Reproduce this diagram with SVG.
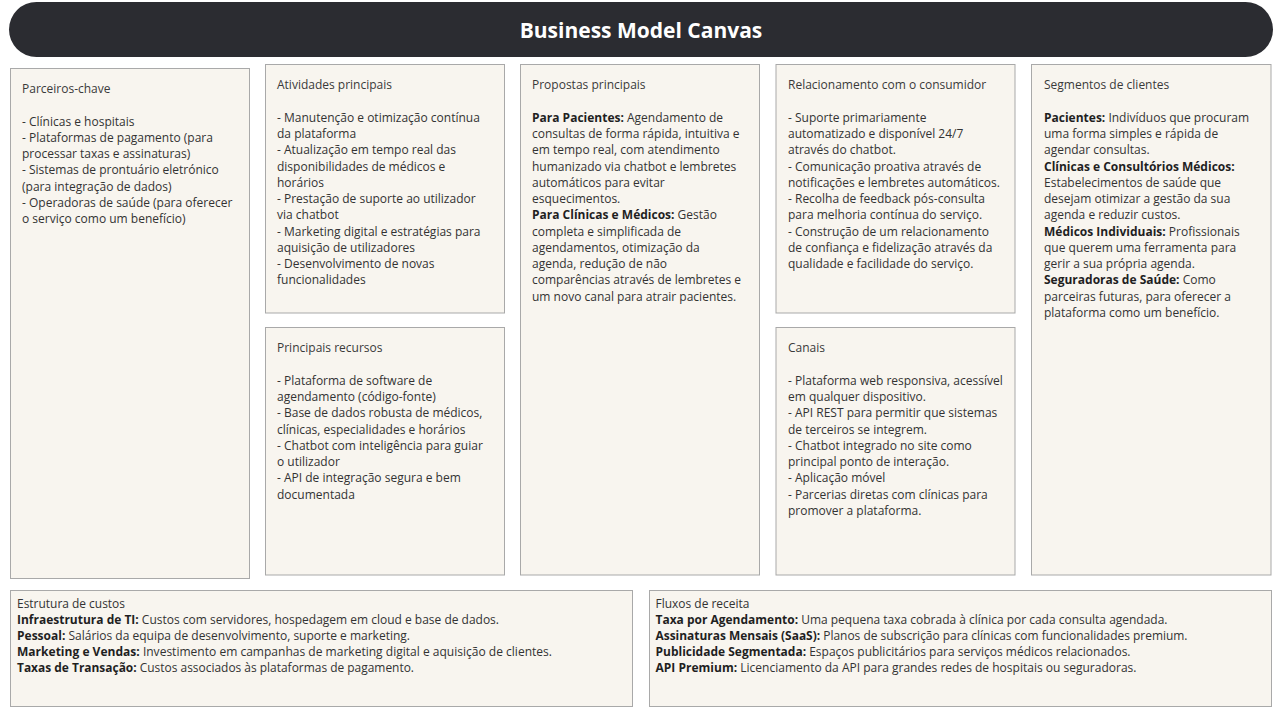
<svg xmlns="http://www.w3.org/2000/svg" width="1280" height="712" viewBox="0 0 1280 712">
<style>
.bg{fill:#ffffff}
.hdr{fill:#2b2c31}
.ttl{font-family:"Open Sans","Noto Sans",sans-serif;font-size:21px;font-weight:700;fill:#ffffff}
.box{fill:#f8f5ef;stroke:#a9a9a9;stroke-width:1}
.t{font-family:"Open Sans","Noto Sans",sans-serif;font-size:12px;fill:#333333}
.h{font-family:"Open Sans","Noto Sans",sans-serif;font-size:12px;fill:#3a3a3a}
.b{font-weight:700;fill:#1f1f1f}
.s{font-family:"Open Sans","Noto Sans",sans-serif;font-size:12.4px;fill:#333333}
</style>
<rect class="bg" x="0" y="0" width="1280" height="712"/>
<g id="header">
<rect class="hdr" x="9" y="2" width="1264" height="55" rx="27.5"/>
<text class="ttl" x="641" y="37.5" text-anchor="middle">Business Model Canvas</text>
</g>
<g id="connectors"></g>
<g id="parceiros-chave">
<rect class="box" x="10.5" y="68.5" width="239" height="510"/>
<text class="h" x="22" y="93">Parceiros-chave</text>
<text class="t" x="22" y="125.5">- Clínicas e hospitais</text>
<text class="t" x="22" y="141.7">- Plataformas de pagamento (para</text>
<text class="t" x="22" y="158">processar taxas e assinaturas)</text>
<text class="t" x="22" y="174.2">- Sistemas de prontuário eletrónico</text>
<text class="t" x="22" y="190.5">(para integração de dados)</text>
<text class="t" x="22" y="206.7">- Operadoras de saúde (para oferecer</text>
<text class="t" x="22" y="223">o serviço como um benefício)</text>
</g>
<g id="atividades-principais">
<rect class="box" x="265.5" y="64.5" width="239" height="248.5"/>
<text class="h" x="277" y="89.2">Atividades principais</text>
<text class="t" x="277" y="121.7">- Manutenção e otimização contínua</text>
<text class="t" x="277" y="138">da plataforma</text>
<text class="t" x="277" y="154.2">- Atualização em tempo real das</text>
<text class="t" x="277" y="170.5">disponibilidades de médicos e</text>
<text class="t" x="277" y="186.7">horários</text>
<text class="t" x="277" y="203">- Prestação de suporte ao utilizador</text>
<text class="t" x="277" y="219.2">via chatbot</text>
<text class="t" x="277" y="235.5">- Marketing digital e estratégias para</text>
<text class="t" x="277" y="251.7">aquisição de utilizadores</text>
<text class="t" x="277" y="268">- Desenvolvimento de novas</text>
<text class="t" x="277" y="284.2">funcionalidades</text>
</g>
<g id="principais-recursos">
<rect class="box" x="265.5" y="327.5" width="239" height="247.5"/>
<text class="h" x="277" y="352.2">Principais recursos</text>
<text class="t" x="277" y="384.7">- Plataforma de software de</text>
<text class="t" x="277" y="401">agendamento (código-fonte)</text>
<text class="t" x="277" y="417.2">- Base de dados robusta de médicos,</text>
<text class="t" x="277" y="433.5">clínicas, especialidades e horários</text>
<text class="t" x="277" y="449.7">- Chatbot com inteligência para guiar</text>
<text class="t" x="277" y="466">o utilizador</text>
<text class="t" x="277" y="482.2">- API de integração segura e bem</text>
<text class="t" x="277" y="498.5">documentada</text>
</g>
<g id="propostas-principais">
<rect class="box" x="520.5" y="64.5" width="239" height="510.5"/>
<text class="h" x="532" y="89.2">Propostas principais</text>
<text class="t" x="532" y="121.7"><tspan class="b">Para Pacientes:</tspan> Agendamento de</text>
<text class="t" x="532" y="138">consultas de forma rápida, intuitiva e</text>
<text class="t" x="532" y="154.2">em tempo real, com atendimento</text>
<text class="t" x="532" y="170.5">humanizado via chatbot e lembretes</text>
<text class="t" x="532" y="186.7">automáticos para evitar</text>
<text class="t" x="532" y="203">esquecimentos.</text>
<text class="t" x="532" y="219.2"><tspan class="b">Para Clínicas e Médicos:</tspan> Gestão</text>
<text class="t" x="532" y="235.5">completa e simplificada de</text>
<text class="t" x="532" y="251.7">agendamentos, otimização da</text>
<text class="t" x="532" y="268">agenda, redução de não</text>
<text class="t" x="532" y="284.2">comparências através de lembretes e</text>
<text class="t" x="532" y="300.5">um novo canal para atrair pacientes.</text>
</g>
<g id="relacionamento">
<rect class="box" x="776" y="64.5" width="239" height="248.5"/>
<text class="h" x="788" y="89.2">Relacionamento com o consumidor</text>
<text class="t" x="788" y="121.7">- Suporte primariamente</text>
<text class="t" x="788" y="138">automatizado e disponível 24/7</text>
<text class="t" x="788" y="154.2">através do chatbot.</text>
<text class="t" x="788" y="170.5">- Comunicação proativa através de</text>
<text class="t" x="788" y="186.7">notificações e lembretes automáticos.</text>
<text class="t" x="788" y="203">- Recolha de feedback pós-consulta</text>
<text class="t" x="788" y="219.2">para melhoria contínua do serviço.</text>
<text class="t" x="788" y="235.5">- Construção de um relacionamento</text>
<text class="t" x="788" y="251.7">de confiança e fidelização através da</text>
<text class="t" x="788" y="268">qualidade e facilidade do serviço.</text>
</g>
<g id="canais">
<rect class="box" x="776" y="327.5" width="239" height="247.5"/>
<text class="h" x="788" y="352.2">Canais</text>
<text class="t" x="788" y="384.7">- Plataforma web responsiva, acessível</text>
<text class="t" x="788" y="401">em qualquer dispositivo.</text>
<text class="t" x="788" y="417.2">- API REST para permitir que sistemas</text>
<text class="t" x="788" y="433.5">de terceiros se integrem.</text>
<text class="t" x="788" y="449.7">- Chatbot integrado no site como</text>
<text class="t" x="788" y="466">principal ponto de interação.</text>
<text class="t" x="788" y="482.2">- Aplicação móvel</text>
<text class="t" x="788" y="498.5">- Parcerias diretas com clínicas para</text>
<text class="t" x="788" y="514.7">promover a plataforma.</text>
</g>
<g id="segmentos-de-clientes">
<rect class="box" x="1031.5" y="64.5" width="239.5" height="510.5"/>
<text class="h" x="1044" y="89.2">Segmentos de clientes</text>
<text class="t" x="1044" y="121.7"><tspan class="b">Pacientes:</tspan> Indivíduos que procuram</text>
<text class="t" x="1044" y="138">uma forma simples e rápida de</text>
<text class="t" x="1044" y="154.2">agendar consultas.</text>
<text class="t" x="1044" y="170.5"><tspan class="b">Clínicas e Consultórios Médicos:</tspan></text>
<text class="t" x="1044" y="186.7">Estabelecimentos de saúde que</text>
<text class="t" x="1044" y="203">desejam otimizar a gestão da sua</text>
<text class="t" x="1044" y="219.2">agenda e reduzir custos.</text>
<text class="t" x="1044" y="235.5"><tspan class="b">Médicos Individuais:</tspan> Profissionais</text>
<text class="t" x="1044" y="251.7">que querem uma ferramenta para</text>
<text class="t" x="1044" y="268">gerir a sua própria agenda.</text>
<text class="t" x="1044" y="284.2"><tspan class="b">Seguradoras de Saúde:</tspan> Como</text>
<text class="t" x="1044" y="300.5">parceiras futuras, para oferecer a</text>
<text class="t" x="1044" y="316.7">plataforma como um benefício.</text>
</g>
<g id="estrutura-de-custos">
<rect class="box" x="10.5" y="590.5" width="622" height="116"/>
<text class="s" x="17" y="608" textLength="108" lengthAdjust="spacingAndGlyphs">Estrutura de custos</text>
<text class="s" x="17" y="624" textLength="482" lengthAdjust="spacingAndGlyphs"><tspan class="b">Infraestrutura de TI:</tspan> Custos com servidores, hospedagem em cloud e base de dados.</text>
<text class="s" x="17" y="640" textLength="393" lengthAdjust="spacingAndGlyphs"><tspan class="b">Pessoal:</tspan> Salários da equipa de desenvolvimento, suporte e marketing.</text>
<text class="s" x="17" y="656" textLength="535" lengthAdjust="spacingAndGlyphs"><tspan class="b">Marketing e Vendas:</tspan> Investimento em campanhas de marketing digital e aquisição de clientes.</text>
<text class="s" x="17" y="672" textLength="397" lengthAdjust="spacingAndGlyphs"><tspan class="b">Taxas de Transação:</tspan> Custos associados às plataformas de pagamento.</text>
</g>
<g id="fluxos-de-receita">
<rect class="box" x="649.5" y="590.5" width="622" height="116"/>
<text class="s" x="655.5" y="608" textLength="94" lengthAdjust="spacingAndGlyphs">Fluxos de receita</text>
<text class="s" x="655.5" y="624" textLength="512" lengthAdjust="spacingAndGlyphs"><tspan class="b">Taxa por Agendamento:</tspan> Uma pequena taxa cobrada à clínica por cada consulta agendada.</text>
<text class="s" x="655.5" y="640" textLength="532" lengthAdjust="spacingAndGlyphs"><tspan class="b">Assinaturas Mensais (SaaS):</tspan> Planos de subscrição para clínicas com funcionalidades premium.</text>
<text class="s" x="655.5" y="656" textLength="475" lengthAdjust="spacingAndGlyphs"><tspan class="b">Publicidade Segmentada:</tspan> Espaços publicitários para serviços médicos relacionados.</text>
<text class="s" x="655.5" y="672" textLength="481" lengthAdjust="spacingAndGlyphs"><tspan class="b">API Premium:</tspan> Licenciamento da API para grandes redes de hospitais ou seguradoras.</text>
</g>
</svg>
